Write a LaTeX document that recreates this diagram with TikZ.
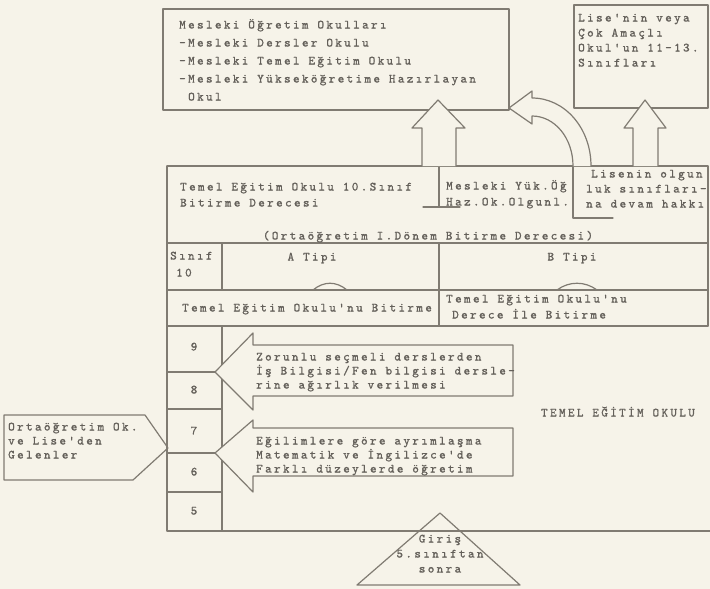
\documentclass[tikz,border=0pt]{standalone}
\usepackage{fontspec}
\newfontfamily\tw{lmmono10-regular}[Extension=.otf,LetterSpace=19,FakeBold=1.2]
\definecolor{paper}{RGB}{246,243,233}
\definecolor{ink}{RGB}{128,123,114}
\definecolor{txt}{RGB}{100,96,90}
\begin{document}
\begin{tikzpicture}[x=1pt,y=-1pt,
  ln/.style={draw=ink, line width=1.2pt, line join=round, line cap=round},
  blk/.style={ln, fill=paper},
  tx/.style={anchor=base west, inner sep=0pt, text=txt, font=\tw\fontsize{12.5}{14}\selectfont},
  tc/.style={tx, anchor=base}]
\fill[paper] (0,0) rectangle (710,589);
\useasboundingbox (0,0) rectangle (710,589);

% top boxes
\draw[ln] (163,9) rectangle (509,110);
\draw[ln] (574,5) rectangle (708,108);

% main table
\draw[ln] (167,166) -- (708,166) -- (708,326);
\draw[ln] (167,166) -- (167,531) -- (710,531);
\draw[ln] (439,166) -- (439,207);
\draw[ln] (423,207) -- (460,207);
\draw[ln] (573,166) -- (573,218) -- (613,218);
\draw[ln] (167,243) -- (708,243);
\draw[ln] (222,243) -- (222,290);
\draw[ln] (439,243) -- (439,326);
\draw[ln] (167,290) -- (708,290);
\draw[ln] (313,290) .. controls (324,281) and (336,281) .. (347,290);
\draw[ln] (557,290) .. controls (569,281) and (585,281) .. (597,290);
\draw[ln] (167,326) -- (708,326);

% grade column
\draw[ln] (222,326) -- (222,531);
\draw[ln] (167,372) -- (222,372);
\draw[ln] (167,409) -- (222,409);
\draw[ln] (167,453) -- (222,453);
\draw[ln] (167,492) -- (222,492);

% up arrows
\fill[paper] (422,166) -- (422,128) -- (412,128) -- (438,100) -- (465,128) -- (456,128) -- (456,166) -- cycle;
\draw[ln] (422,166) -- (422,128) -- (412,128) -- (438,100) -- (465,128) -- (456,128) -- (456,166);
\fill[paper] (633,166) -- (633,128) -- (624,128) -- (645,100) -- (666,128) -- (658,128) -- (658,166) -- cycle;
\draw[ln] (633,166) -- (633,128) -- (624,128) -- (645,100) -- (666,128) -- (658,128) -- (658,166);

% curved arrow
\fill[paper] (591,166) .. controls (591,128) and (564.6,98) .. (532,98) -- (532,91) -- (509,108) -- (532,124) -- (532,116) .. controls (554.6,116) and (573,137.9) .. (573,166) -- cycle;
\draw[ln] (591,166) .. controls (591,128) and (564.6,98) .. (532,98) -- (532,91) -- (509,108) -- (532,124) -- (532,116) .. controls (554.6,116) and (573,137.9) .. (573,166);

% left-pointing block arrows
\draw[blk] (215,372) -- (253,333) -- (253,345) -- (513,345) -- (513,396) -- (253,396) -- (253,410) -- cycle;
\draw[blk] (215,453) -- (253,420) -- (253,428) -- (513,428) -- (513,476) -- (253,476) -- (253,492) -- cycle;

% pentagon and triangle
\draw[ln] (4,415) -- (145,415) -- (168,448) -- (133,480) -- (4,480) -- cycle;
\draw[ln] (357,585) -- (440,513) -- (520,585) -- cycle;

% texts: box A
\node[tx] (a1) at (179,28.5) {Mesleki Öğretim Okulları};
\node[tx] (a2) at (179,46.5) {-Mesleki Dersler Okulu};
\node[tx] (a3) at (179,64.5) {-Mesleki Temel Eğitim Okulu};
\node[tx] (a4) at (179,82.5) {-Mesleki Yükseköğretime Hazırlayan};
\node[tx] (a5) at (188,100.5) {Okul};
% box B
\node[tx] (b1) at (578,21.5) {Lise'nin veya};
\node[tx] (b2) at (578,36.5) {Çok Amaçlı};
\node[tx] (b3) at (578,51.5) {Okul'un 11-13.};
\node[tx] (b4) at (578,66.5) {Sınıfları};
% table
\node[tx] (c1) at (180,190.5) {Temel Eğitim Okulu 10.Sınıf};
\node[tx] (c2) at (180,206.5) {Bitirme Derecesi};
\node[tx] (d1) at (446,189.5) {Mesleki Yük.Öğ};
\node[tx] (d2) at (446,205.5) {Haz.Ok.Olgunl.};
\node[tx] (e1) at (591,177.5) {Lisenin olgun};
\node[tx] (e2) at (586,192.5) {luk sınıfları-};
\node[tx] (e3) at (586,207.5) {na devam hakkı};
\node[tc] (f1) at (428,239.5) {(Ortaöğretim I.Dönem Bitirme Derecesi)};
\node[tx] (g1) at (170,259.5) {Sınıf};
\node[tx] (g2) at (176,276.5) {10};
\node[tc] (g3) at (312,260.5) {A Tipi};
\node[tc] (g4) at (572,260.5) {B Tipi};
\node[tx] (h1) at (182,311.5) {Temel Eğitim Okulu'nu Bitirme};
\node[tx] (h2) at (446,302.5) {Temel Eğitim Okulu'nu};
\node[tx] (h3) at (452,318.5) {Derece İle Bitirme};
% grades
\node[tc] (n9) at (194,350.5) {9};
\node[tc] (n8) at (194,393.5) {8};
\node[tc] (n7) at (194,434.5) {7};
\node[tc] (n6) at (194,475.5) {6};
\node[tc] (n5) at (194,514.5) {5};
% arrow texts
\node[tx] (p1) at (256,360.5) {Zorunlu seçmeli derslerden};
\node[tx] (p2) at (256,374.5) {İş Bilgisi/Fen bilgisi dersle-};
\node[tx] (p3) at (256,388.5) {rine ağırlık verilmesi};
\node[tx] (q1) at (256,444.5) {Eğilimlere göre ayrımlaşma};
\node[tx] (q2) at (256,458.5) {Matematik ve İngilizce'de};
\node[tx] (q3) at (256,472.5) {Farklı düzeylerde öğretim};
\node[tc] (r1) at (618,416.5) {TEMEL EĞİTİM OKULU};
% pentagon
\node[tx] (s1) at (8,430.5) {Ortaöğretim Ok.};
\node[tx] (s2) at (8,444.5) {ve Lise'den};
\node[tx] (s3) at (8,458.5) {Gelenler};
% triangle
\node[tc] (u1) at (440,542.5) {Giriş};
\node[tc] (u2) at (440,557.5) {5.sınıftan};
\node[tc] (u3) at (440,572.5) {sonra};
\end{tikzpicture}
\end{document}
